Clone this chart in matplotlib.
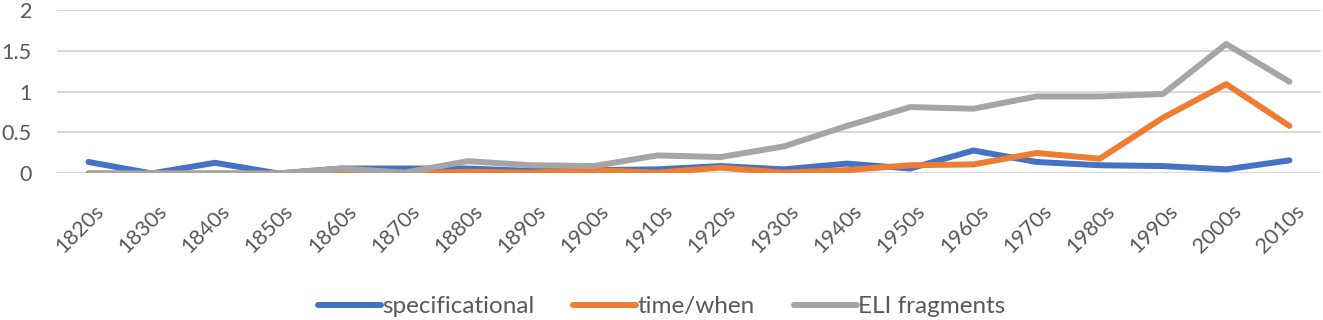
import numpy as np
from matplotlib import pyplot as plt
from matplotlib import transforms

decades = ['1820s', '1830s', '1840s', '1850s', '1860s', '1870s', '1880s',
           '1890s', '1900s', '1910s', '1920s', '1930s', '1940s', '1950s',
           '1960s', '1970s', '1980s', '1990s', '2000s', '2010s']

specificational = [0.14, 0.0, 0.13, 0.0, 0.06, 0.06, 0.06, 0.03, 0.04, 0.05,
                   0.09, 0.05, 0.12, 0.06, 0.28, 0.14, 0.10, 0.09, 0.05, 0.16]
time_when = [0.0, 0.0, 0.0, 0.0, 0.01, 0.0, 0.02, 0.01, 0.04, 0.01,
             0.07, 0.01, 0.04, 0.10, 0.11, 0.25, 0.18, 0.68, 1.09, 0.58]
eli_fragments = [0.0, 0.0, 0.0, 0.0, 0.06, 0.01, 0.15, 0.10, 0.09, 0.22,
                 0.20, 0.33, 0.58, 0.81, 0.79, 0.94, 0.94, 0.97, 1.58, 1.12]

plt.rcParams['font.family'] = ['Lato', 'DejaVu Sans']
txt = '#595959'

fig = plt.figure(figsize=(13.23, 3.2), dpi=100)
ax = fig.add_axes([0.043, 0.458, 0.9555, 0.512])

x = np.arange(len(decades))
for ys, c, name in [(specificational, '#4472c4', 'specificational'),
                    (time_when, '#ed7d31', 'time/when'),
                    (eli_fragments, '#a5a5a5', 'ELI fragments')]:
    ax.plot(x, ys, color=c, lw=4.3, label=name,
            solid_capstyle='round', solid_joinstyle='round')

ax.set_xlim(-0.5, len(decades) - 0.5)
ax.set_ylim(0, 2)
ax.set_yticks([0, 0.5, 1, 1.5, 2])
ax.set_yticklabels(['0', '0.5', '1', '1.5', '2'])
ax.set_xticks(x)
ax.set_xticklabels(decades, rotation=45, ha='right', rotation_mode='anchor')
ax.tick_params(axis='both', length=0, labelsize=15.5, colors=txt)
ax.tick_params(axis='y', pad=18)
ax.tick_params(axis='x', pad=20)
shift = transforms.ScaledTranslation(5 / 100, 0, fig.dpi_scale_trans)
for lbl in ax.get_xticklabels():
    lbl.set_transform(lbl.get_transform() + shift)

ax.grid(axis='y', color='#d9d9d9', lw=1.5)
ax.set_axisbelow(True)
for s in ax.spines.values():
    s.set_visible(False)

leg = fig.legend(loc='center', bbox_to_anchor=(0.5, 0.042), ncol=3, frameon=False,
                 fontsize=17.5, handlelength=2.6, handletextpad=0.05, columnspacing=1.6)
for t in leg.get_texts():
    t.set_color(txt)

fig.savefig('out.png', dpi=100)
